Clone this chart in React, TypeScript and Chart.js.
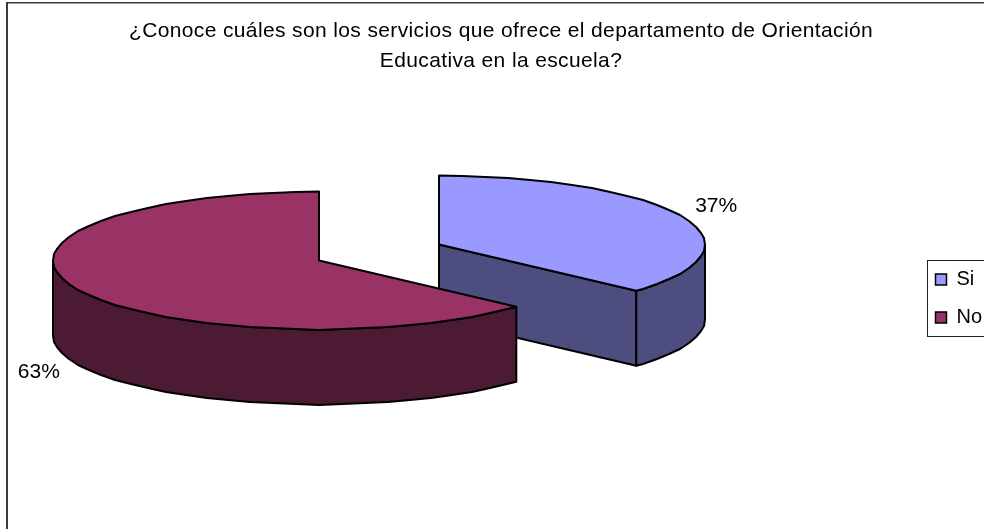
import React, { useEffect, useRef } from "react";
import { Chart, registerables } from "chart.js";

Chart.register(...registerables);

const categories = ["Si", "No"];
const seriesValues = [36.7, 63.3];
const topColors = ["#9999FF", "#993366"];
const wallColors = ["#4D4D80", "#4D1A33"];
const titleLines = [
  "¿Conoce cuáles son los servicios que ofrece el departamento de Orientación",
  "Educativa en la escuela?",
];

const FONT = "'Liberation Sans', Arial, sans-serif";
const sliceCentres = [
  { x: 439, y: 244.5 },
  { x: 319, y: 260.5 },
];
const labelShift = [
  { dx: 0, dy: -6 },
  { dx: -3, dy: 80 },
];
const RX = 266;
const RY = 69;
const DEPTH = 75;
const LINE = 2;
const TAU = Math.PI * 2;
const STEP = (5 * Math.PI) / 180;

function rimRange(a0: number, a1: number): [number, number] | null {
  let s = a0;
  let e = a1;
  while (e <= 0) {
    s += TAU;
    e += TAU;
  }
  const from = Math.max(s, 0);
  const to = Math.min(e, Math.PI);
  return to > from ? [from, to] : null;
}

// the reference's curved edges are coarse, stepped polylines
function rimPoints(cx: number, cy: number, a0: number, a1: number) {
  const pts: [number, number][] = [];
  const exact = (a: number): [number, number] => [cx + RX * Math.cos(a), cy + RY * Math.sin(a)];
  pts.push(exact(a0));
  let k = Math.ceil((a0 + 1e-4) / STEP);
  while (k * STEP < a1 - 1e-4) {
    const [x, y] = exact(k * STEP);
    pts.push([Math.round(x), Math.round(y)]);
    k += 1;
  }
  pts.push(exact(a1));
  return pts;
}

function drawWalls(ctx: CanvasRenderingContext2D, i: number, a0: number, a1: number) {
  const c = sliceCentres[i];
  ctx.fillStyle = wallColors[i];
  ctx.strokeStyle = "#000";
  ctx.lineWidth = LINE;
  ctx.lineJoin = "round";
  const face = (angle: number, normal: number) => {
    if (Math.sin(normal) < 1e-6) return;
    const px = c.x + RX * Math.cos(angle);
    const py = c.y + RY * Math.sin(angle);
    ctx.beginPath();
    ctx.moveTo(c.x, c.y);
    ctx.lineTo(px, py);
    ctx.lineTo(px, py + DEPTH);
    ctx.lineTo(c.x, c.y + DEPTH);
    ctx.closePath();
    ctx.fill();
    ctx.stroke();
  };
  face(a0, a0 - Math.PI / 2);
  face(a1, a1 + Math.PI / 2);
  const r = rimRange(a0, a1);
  if (r) {
    const pts = rimPoints(c.x, c.y, r[0], r[1]);
    ctx.beginPath();
    pts.forEach(([x, y], k) => (k ? ctx.lineTo(x, y) : ctx.moveTo(x, y)));
    [...pts].reverse().forEach(([x, y]) => ctx.lineTo(x, y + DEPTH));
    ctx.closePath();
    ctx.fill();
    ctx.stroke();
  }
}

const piePlugin = {
  id: "extrudedPie",
  beforeDraw(chart: any) {
    const { ctx, width, height } = chart;
    ctx.save();
    ctx.fillStyle = "#fff";
    ctx.fillRect(0, 0, width, height);
    ctx.fillStyle = "#3a3a3a";
    ctx.fillRect(6, 2, 2, height - 2);
    ctx.fillRect(6, 2, width - 6, 1.5);
    ctx.strokeStyle = "#222";
    ctx.lineWidth = 1;
    ctx.strokeRect(927.5, 260.5, 80, 76);
    ctx.restore();
  },
  afterLayout(chart: any) {
    const legend = chart.legend;
    const h = legend.height;
    legend.left = 917.5;
    legend.right = 917.5 + legend.width;
    legend.top = 251.5;
    legend.bottom = 251.5 + h;
    const t = chart.titleBlock;
    if (!t.__spaced) {
      t.__spaced = true;
      const base = t.draw.bind(t);
      t.draw = (area: any) => {
        chart.ctx.save();
        chart.ctx.letterSpacing = "0.37px";
        base(area);
        chart.ctx.restore();
      };
    }
  },
  beforeDatasetDraw(chart: any, args: any) {
    const { ctx } = chart;
    const arcs = chart.getDatasetMeta(args.index).data;
    arcs.forEach((arc: any, i: number) => {
      const c = sliceCentres[i];
      drawWalls(ctx, i, arc.startAngle, arc.endAngle);
      ctx.save();
      ctx.translate(c.x, c.y);
      ctx.scale(RX / arc.outerRadius, RY / arc.outerRadius);
      ctx.translate(-arc.x, -arc.y);
      arc.draw(ctx);
      ctx.restore();
      ctx.save();
      ctx.strokeStyle = "#000";
      ctx.lineWidth = LINE;
      ctx.lineJoin = "round";
      ctx.beginPath();
      ctx.moveTo(c.x, c.y);
      rimPoints(c.x, c.y, arc.startAngle, arc.endAngle).forEach(([x, y]) => ctx.lineTo(x, y));
      ctx.closePath();
      ctx.stroke();
      ctx.restore();
    });
    const total = seriesValues.reduce((a, b) => a + b, 0);
    ctx.save();
    ctx.fillStyle = "#000";
    ctx.font = `21px ${FONT}`;
    ctx.textAlign = "center";
    ctx.textBaseline = "middle";
    arcs.forEach((arc: any, i: number) => {
      const c = sliceCentres[i];
      const mid = (arc.startAngle + arc.endAngle) / 2;
      const x = c.x + RX * 1.14 * Math.cos(mid) + labelShift[i].dx;
      const y = c.y + RY * 1.14 * Math.sin(mid) + labelShift[i].dy;
      ctx.fillText(`${Math.round((seriesValues[i] / total) * 100)}%`, x, y);
    });
    ctx.restore();
    return false;
  },
};

export default function App() {
  const ref = useRef<HTMLCanvasElement>(null);
  useEffect(() => {
    if (!ref.current) return;
    const chart = new Chart(ref.current, {
      type: "pie",
      data: {
        labels: categories,
        datasets: [{ data: seriesValues, backgroundColor: topColors, borderWidth: 0 }],
      },
      options: {
        responsive: false,
        animation: false,
        devicePixelRatio: 1,
        layout: { padding: { left: 18 } },
        plugins: {
          tooltip: { enabled: false },
          title: {
            display: true,
            text: titleLines,
            color: "#000",
            font: { family: FONT, size: 21, weight: "normal", lineHeight: 1.43 },
            padding: { top: 16, bottom: 10 },
          },
          legend: {
            display: true,
            position: "right",
            align: "start",
            labels: {
              boxWidth: 11,
              boxHeight: 11,
              padding: 18,
              color: "#000",
              font: { family: FONT, size: 20 },
              generateLabels(c: any) {
                const items = (Chart as any).overrides.pie.plugins.legend.labels.generateLabels(c);
                items.forEach((it: any) => {
                  it.strokeStyle = "#000";
                  it.lineWidth = 1.5;
                });
                return items;
              },
            },
          },
        },
      },
      plugins: [piePlugin],
    } as any);
    return () => chart.destroy();
  }, []);
  return (
    <div style={{ position: "absolute", left: 0, top: 0 }}>
      <canvas ref={ref} width={984} height={529} style={{ display: "block" }} />
    </div>
  );
}
